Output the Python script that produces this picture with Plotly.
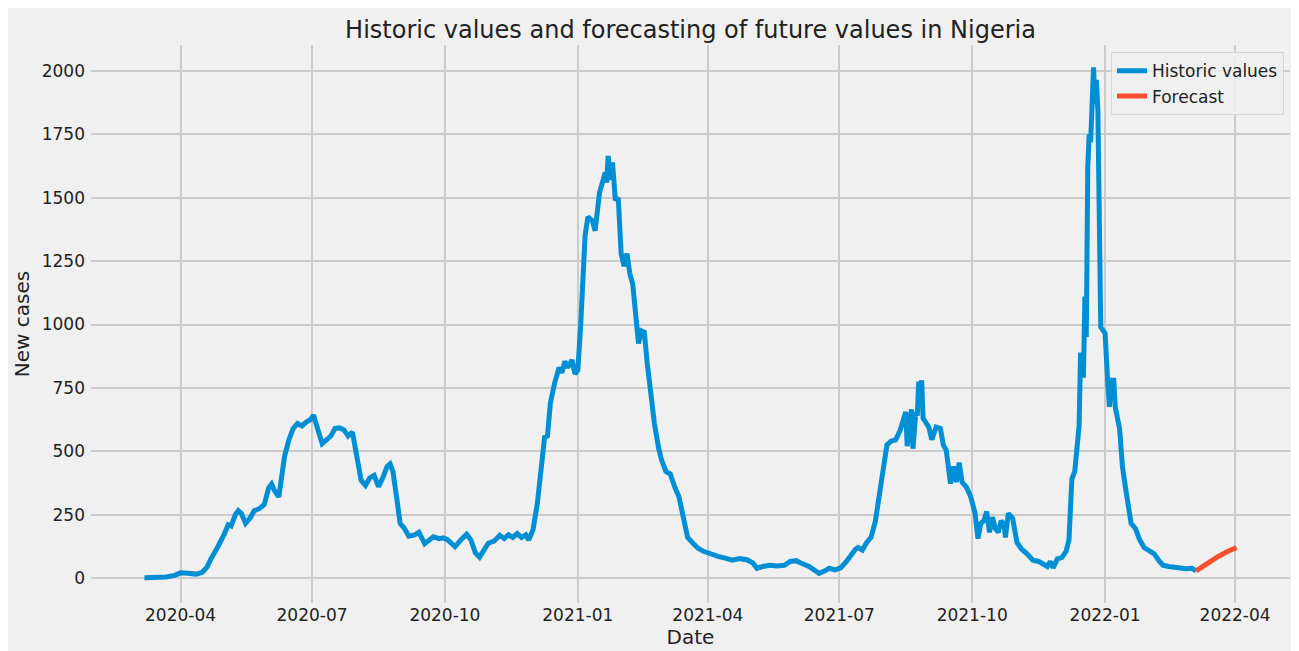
import plotly.graph_objects as go

# daily new cases (approximate)
hist_dates = [
    '2020-03-07', '2020-03-15', '2020-03-22', '2020-03-28', '2020-04-01', '2020-04-06', '2020-04-12',
    '2020-04-16', '2020-04-19', '2020-04-22', '2020-04-25', '2020-04-27', '2020-05-01', '2020-05-04',
    '2020-05-06', '2020-05-09', '2020-05-11', '2020-05-13', '2020-05-16', '2020-05-19', '2020-05-22',
    '2020-05-26', '2020-05-29', '2020-06-01', '2020-06-03', '2020-06-05', '2020-06-08', '2020-06-10',
    '2020-06-12', '2020-06-15', '2020-06-18', '2020-06-21', '2020-06-24', '2020-06-27', '2020-06-30',
    '2020-07-02', '2020-07-05', '2020-07-08', '2020-07-11', '2020-07-14', '2020-07-17', '2020-07-20',
    '2020-07-23', '2020-07-26', '2020-07-29', '2020-08-01', '2020-08-04', '2020-08-07', '2020-08-10',
    '2020-08-13', '2020-08-16', '2020-08-19', '2020-08-22', '2020-08-24', '2020-08-26', '2020-08-29',
    '2020-08-31', '2020-09-03', '2020-09-06', '2020-09-10', '2020-09-13', '2020-09-17', '2020-09-20',
    '2020-09-23', '2020-09-27', '2020-09-30', '2020-10-03', '2020-10-06', '2020-10-08', '2020-10-12',
    '2020-10-16', '2020-10-19', '2020-10-22', '2020-10-25', '2020-10-28', '2020-10-31', '2020-11-04',
    '2020-11-08', '2020-11-11', '2020-11-14', '2020-11-17', '2020-11-20', '2020-11-23', '2020-11-26',
    '2020-11-28', '2020-12-01', '2020-12-04', '2020-12-07', '2020-12-09', '2020-12-11', '2020-12-13',
    '2020-12-16', '2020-12-19', '2020-12-21', '2020-12-23', '2020-12-25', '2020-12-28', '2020-12-30',
    '2021-01-01', '2021-01-03', '2021-01-06', '2021-01-08', '2021-01-11', '2021-01-13', '2021-01-16',
    '2021-01-18', '2021-01-20', '2021-01-21', '2021-01-22', '2021-01-24', '2021-01-25', '2021-01-27',
    '2021-01-29', '2021-01-31', '2021-02-02', '2021-02-04', '2021-02-06', '2021-02-08', '2021-02-10',
    '2021-02-12', '2021-02-14', '2021-02-16', '2021-02-18', '2021-02-21', '2021-02-23', '2021-02-26',
    '2021-02-28', '2021-03-03', '2021-03-06', '2021-03-09', '2021-03-12', '2021-03-15', '2021-03-18',
    '2021-03-22', '2021-03-25', '2021-03-29', '2021-04-03', '2021-04-08', '2021-04-13', '2021-04-18',
    '2021-04-23', '2021-04-28', '2021-05-02', '2021-05-05', '2021-05-09', '2021-05-14', '2021-05-19',
    '2021-05-24', '2021-05-28', '2021-06-01', '2021-06-04', '2021-06-07', '2021-06-10', '2021-06-14',
    '2021-06-17', '2021-06-20', '2021-06-24', '2021-06-28', '2021-07-02', '2021-07-06', '2021-07-09',
    '2021-07-12', '2021-07-14', '2021-07-17', '2021-07-20', '2021-07-23', '2021-07-26', '2021-07-28',
    '2021-07-31', '2021-08-03', '2021-08-06', '2021-08-09', '2021-08-12', '2021-08-15', '2021-08-16',
    '2021-08-17', '2021-08-19', '2021-08-20', '2021-08-21', '2021-08-23', '2021-08-24', '2021-08-25',
    '2021-08-26', '2021-08-27', '2021-08-28', '2021-09-01', '2021-09-03', '2021-09-06', '2021-09-09',
    '2021-09-11', '2021-09-13', '2021-09-15', '2021-09-16', '2021-09-18', '2021-09-20', '2021-09-22',
    '2021-09-24', '2021-09-27', '2021-09-30', '2021-10-03', '2021-10-05', '2021-10-07', '2021-10-09',
    '2021-10-11', '2021-10-13', '2021-10-15', '2021-10-17', '2021-10-19', '2021-10-21', '2021-10-23',
    '2021-10-24', '2021-10-26', '2021-10-29', '2021-11-01', '2021-11-04', '2021-11-08', '2021-11-12',
    '2021-11-16', '2021-11-19', '2021-11-22', '2021-11-24', '2021-11-26', '2021-11-29', '2021-12-02',
    '2021-12-05', '2021-12-07',
    '2021-12-09', '2021-12-11', '2021-12-14', '2021-12-15', '2021-12-16', '2021-12-17', '2021-12-18',
    '2021-12-19', '2021-12-20', '2021-12-21', '2021-12-22', '2021-12-24', '2021-12-25', '2021-12-26',
    '2021-12-27', '2021-12-29', '2022-01-01', '2022-01-02', '2022-01-03', '2022-01-04', '2022-01-05',
    '2022-01-07', '2022-01-08', '2022-01-11', '2022-01-13',
    '2022-01-15', '2022-01-17', '2022-01-19',
    '2022-01-22', '2022-01-25', '2022-01-28', '2022-02-01', '2022-02-04', '2022-02-07', '2022-02-10',
    '2022-02-14', '2022-02-18', '2022-02-22', '2022-02-26', '2022-03-02', '2022-03-05',
]
hist_values = [
    1, 2, 4, 10, 20, 18, 15,
    22, 40, 75, 100, 125, 170, 210,
    205, 250, 265, 255, 215, 235, 265,
    275, 290, 355, 370, 345, 320, 390,
    480, 545, 590, 610, 600, 615, 625,
    643, 590, 530, 545, 560, 590, 592,
    585, 560, 575, 480, 385, 365, 395,
    405, 360, 395, 440, 450, 420, 300,
    215, 195, 165, 170, 180, 135, 150,
    162, 155, 158, 150, 130, 123, 150,
    172, 150, 100, 82, 110, 137, 145,
    168, 155, 170, 160, 175, 160, 170,
    150, 190, 295, 450, 555, 560, 690,
    770, 830, 810, 855, 830, 860, 805,
    820, 1000, 1350, 1425, 1410, 1370, 1520,
    1560, 1600, 1560, 1665, 1570, 1640, 1490,
    1500, 1280, 1230, 1280, 1200, 1160, 1045,
    925, 975, 970, 850, 700, 610, 510,
    465, 420, 410, 360, 320, 240, 160,
    135, 118, 105, 93, 85, 78, 70,
    76, 72, 60, 38, 45, 50, 47,
    50, 65, 68, 60, 55, 45, 30,
    18, 25, 38, 32, 40, 65, 90,
    112, 120, 110, 140, 160, 225, 305,
    440, 525, 540, 545, 580, 640, 655,
    520, 650, 665, 510, 655, 640, 775,
    700, 780, 630, 595, 545, 595, 590,
    525, 505, 420, 372, 440, 378, 455,
    378, 358, 320, 255, 155, 215, 225,
    262, 180, 240, 195, 180, 225, 213,
    160, 255, 235, 140, 115, 95, 70,
    65, 55, 45, 65, 40, 75, 80,
    105, 150,
    390, 420, 600, 880, 880, 790, 1110,
    950, 1620, 1750, 1720, 2015, 1870, 1965,
    1845, 990, 965, 810, 755, 675, 780,
    780, 675, 590, 440,
    360, 290, 215,
    195, 150, 120, 105, 95, 70, 50,
    45, 42, 40, 36, 38, 28,
]

fc_dates = ['2022-03-05', '2022-03-12', '2022-03-19', '2022-03-26', '2022-04-02']
fc_values = [28, 55, 80, 102, 120]

BG = '#f0f0f0'
GRID = '#cbcbcb'
TXT = '#222222'

fig = go.Figure()
fig.add_trace(go.Scatter(x=hist_dates, y=hist_values, mode='lines', name='Historic values',
                         line=dict(color='#008fd5', width=5)))
fig.add_trace(go.Scatter(x=fc_dates, y=fc_values, mode='lines', name='Forecast',
                         line=dict(color='#fc4f30', width=5)))

# the page's body margin gives the white strip on top/left, so the figure is 8px smaller
fig.update_layout(
    width=1291, height=643,
    margin=dict(l=83, r=9, t=37, b=48, autoexpand=False),
    paper_bgcolor=BG, plot_bgcolor=BG,
    font=dict(family='DejaVu Sans', color=TXT, size=17),
    title=dict(text='Historic values and forecasting of future values in Nigeria',
               x=0.5, xref='paper', xanchor='center',
               y=1 - 22 / 643, yref='container', yanchor='middle',
               font=dict(size=24, color=TXT)),
    legend=dict(x=0.995, y=0.987, xanchor='right', yanchor='top',
                bgcolor='rgba(240,240,240,0.8)', bordercolor='#d6d6d6', borderwidth=1,
                font=dict(size=17, color=TXT)),
    showlegend=True,
)
fig.update_xaxes(
    range=['2020-01-30', '2022-05-09'], automargin=False,
    tick0='2020-01-01', dtick='M3', tickformat='%Y-%m',
    showgrid=True, gridcolor=GRID, gridwidth=1.5, zeroline=False, showline=False,
    ticks='', ticklabelstandoff=0,
    title=dict(text='Date', font=dict(size=20), standoff=1),
)
fig.update_yaxes(
    range=[-99, 2103], dtick=250, tick0=0, automargin=False,
    showgrid=True, gridcolor=GRID, gridwidth=1.5, zeroline=False, showline=False,
    ticks='', ticklabelstandoff=5,
    title=dict(text='New cases', font=dict(size=20), standoff=6),
)

fig.write_html('out.html')
